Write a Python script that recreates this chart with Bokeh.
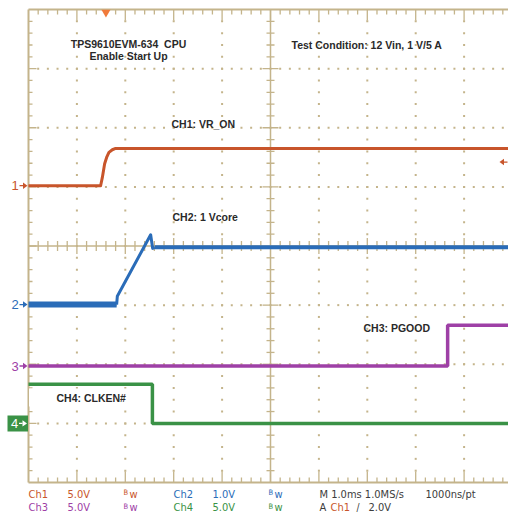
import numpy as np
from bokeh.plotting import figure
from bokeh.models import Range1d, Label
from bokeh.embed import file_html
from bokeh.resources import INLINE

# ---------------- data ----------------
# time in ms relative to the trigger point, voltages in V
ch1_t = [-1.6, -0.11, -0.074, -0.027, 0.014, 0.062, 0.132, 0.20, 8.4]
ch1_v = [0.0, 0.0, 0.70, 1.86, 2.39, 2.82, 3.04, 3.15, 3.15]
ch2_t = [-1.6, 0.221, 0.235, 0.924, 0.965, 1.006, 8.4]
ch2_v = [0.0, 0.0, 0.14, 1.18, 0.95, 0.97, 0.97]
ch3_t = [-1.6, 7.06, 7.06, 8.4]
ch3_v = [0.0, 0.0, 3.44, 3.44]
ch4_t = [-1.6, 0.96, 0.96, 8.4]
ch4_v = [3.3, 3.3, 0.0, 0.0]

channel_ids = ["1", "2", "3", "4"]
volts_per_div = [5.0, 1.0, 5.0, 5.0]
offset_div = [1.02, -0.99, -2.03, -3.0]
colors = ["#c8552b", "#2a6cb8", "#9e40a6", "#3a9246"]
trace_labels = ["CH1: VR_ON", "CH2: 1 Vcore", "CH3: PGOOD", "CH4: CLKEN#"]
title_lines = ["TPS9610EVM-634\u00a0 CPU", "Enable Start Up"]
condition = "Test Condition: 12 Vin, 1 V/5 A"
scale_text = ["5.0V", "1.0V", "5.0V", "5.0V"]
timebase = "M 1.0ms 1.0MS/s"
record = "1000ns/pt"
trigger_source = "Ch1"
trigger_level_v = 2.0
trigger_level_text = "2.0V"

# ---------------- geometry ----------------
W, H = 508, 514
PXMS = 48.4      # px per ms (1 ms/div)
PXDIV = 59.125   # px per vertical division
t_left = -1.6    # time at left graticule edge
x0 = t_left - 28 / PXMS
x1 = x0 + W / PXMS
y1 = 4 + 9 / PXDIV
y0 = y1 - H / PXDIV


def cx(px):
    return x0 + px / PXMS


def cy(py):
    return y1 - py / PXDIV


GRID = "#c4b48b"
TXT = "#2a2a2a"
GRAY = "#3c3c3c"

p = figure(width=W, height=H, x_range=Range1d(x0, x1), y_range=Range1d(y0, y1),
           output_backend="svg", toolbar_location=None,
           x_axis_type=None, y_axis_type=None, min_border=0,
           outline_line_color=None, background_fill_color="white",
           border_fill_color="white")
p.grid.visible = False

for i in range(4):
    p.extra_y_ranges["ch" + channel_ids[i]] = Range1d(
        (y0 - offset_div[i]) * volts_per_div[i], (y1 - offset_div[i]) * volts_per_div[i])

# ---------------- graticule ----------------
minor_x = t_left + np.arange(51) * 0.2
minor_y = -4 + np.arange(41) * 0.2
xc = t_left + 5

dx, dy = [], []
for k in [1, 2, 3, 4, 6, 7, 8, 9]:
    for yy in minor_y[1:-1]:
        dx.append(t_left + k); dy.append(yy)
for yl in [-3, -2, -1, 1, 2, 3]:
    for xx in minor_x[1:-1]:
        dx.append(xx); dy.append(yl)
p.scatter(dx, dy, marker="square", size=2, color=GRID, line_color=None)

p.segment(x0=[t_left, t_left, t_left, xc, t_left],
          y0=[4, -4, -4, -4, 0],
          x1=[t_left + 10, t_left + 10, t_left, xc, t_left + 10],
          y1=[4, -4, 4, 4, 0],
          line_color=GRID, line_width=[2, 2, 2, 1.5, 1.5])

sx0, sy0, sx1, sy1 = [], [], [], []
for j, xx in enumerate(minor_x[1:-1], start=1):
    L = 11 if j % 5 == 0 else 5
    sx0 += [xx, xx]; sx1 += [xx, xx]
    sy0 += [4, -4]; sy1 += [4 - L / PXDIV, -4 + L / PXDIV]
    if j != 25:
        h = 8 if j % 5 == 0 else 5
        sx0.append(xx); sx1.append(xx)
        sy0.append(-h / PXDIV); sy1.append(h / PXDIV)
for j, yy in enumerate(minor_y[1:-1], start=1):
    L = 8 if j % 5 == 0 else 4
    sx0.append(t_left); sx1.append(t_left + L / PXMS)
    sy0.append(yy); sy1.append(yy)
    if j != 20:
        h = 8 if j % 5 == 0 else 4
        sx0.append(xc - h / PXMS); sx1.append(xc + h / PXMS)
        sy0.append(yy); sy1.append(yy)
p.segment(x0=sx0, y0=sy0, x1=sx1, y1=sy1, line_color=GRID, line_width=1.3)

# white box behind the CH4 label
p.quad(left=cx(28.5), right=cx(152), top=cy(388), bottom=cy(406),
       fill_color="white", line_color=None)

# ---------------- traces ----------------
p.line(ch1_t, ch1_v, y_range_name="ch1", line_color=colors[0], line_width=3,
       line_join="round")
p.line(ch2_t[:2], ch2_v[:2], y_range_name="ch2", line_color=colors[1], line_width=6)
p.line(ch2_t[1:6], ch2_v[1:6], y_range_name="ch2", line_color=colors[1], line_width=3,
       line_join="round")
p.line(ch2_t[5:], ch2_v[5:], y_range_name="ch2", line_color=colors[1], line_width=4)
p.line(ch3_t, ch3_v, y_range_name="ch3", line_color=colors[2], line_width=3.5)
p.line(ch4_t, ch4_v, y_range_name="ch4", line_color=colors[3], line_width=3.5)


# ---------------- channel ground markers ----------------
def arrow(tip_px, y, direction, color, rng="default"):
    # small arrow: shaft + triangular head, sizes in screen pixels
    d = 1 if direction == "right" else -1
    head = 4.5
    shaft_end = tip_px - d * 8
    hx = [cx(tip_px), cx(tip_px - d * head), cx(tip_px - d * head)]
    if rng == "default":
        hy = [y, y + 3.2 / PXDIV, y - 3.2 / PXDIV]
        p.patch(hx, hy, color=color, line_color=None)
        p.line([cx(shaft_end), cx(tip_px - d * head)], [y, y], line_color=color,
               line_width=1.3)
    else:
        s = volts_per_div[0]
        hy = [y, y + 3.2 / PXDIV * s, y - 3.2 / PXDIV * s]
        p.patch(hx, hy, color=color, line_color=None, y_range_name=rng)
        p.line([cx(shaft_end), cx(tip_px - d * head)], [y, y], line_color=color,
               line_width=1.3, y_range_name=rng)


for i in range(3):
    p.add_layout(Label(x=cx(14.5), y=offset_div[i], text=channel_ids[i],
                       text_color=colors[i], text_font="Liberation Sans",
                       text_font_size="13px", text_align="center",
                       text_baseline="middle"))
    arrow(27, offset_div[i], "right", colors[i])
p.quad(left=cx(7), right=cx(27.5), top=offset_div[3] + 8 / PXDIV,
       bottom=offset_div[3] - 8 / PXDIV, fill_color=colors[3], line_color=None)
p.add_layout(Label(x=cx(14), y=offset_div[3], text=channel_ids[3],
                   text_color="white", text_font="Liberation Sans",
                   text_font_size="13px", text_align="center", text_baseline="middle"))
arrow(26.5, offset_div[3], "right", "white")

# trigger position (top) and trigger level (right)
p.scatter([0.0], [cy(11.8)], marker="inverted_triangle", size=9,
          color="#f07a3a", line_color=None)
arrow(499, trigger_level_v, "left", colors[0], rng="ch1")

# ---------------- annotations ----------------
def bold(x, y, t, align="left"):
    p.add_layout(Label(x=cx(x), y=cy(y), text=t, text_color=TXT,
                       text_font="Liberation Sans", text_font_style="bold",
                       text_font_size="10.5px", text_align=align,
                       text_baseline="middle"))


bold(128, 43, title_lines[0], "center")
bold(128, 55, title_lines[1], "center")
bold(291, 44, condition)
bold(171, 123, trace_labels[0])
bold(172, 216, trace_labels[1])
bold(363, 327, trace_labels[2])
bold(56, 397, trace_labels[3])

# ---------------- bottom status text ----------------
NF = "'Liberation Sans Narrow', 'DejaVu Sans Condensed', 'Liberation Sans'"


def status(x, y, t, color, size="11px"):
    p.add_layout(Label(x=cx(x), y=cy(y), text=t, text_color=color,
                       text_font=NF, text_font_size=size, text_align="left",
                       text_baseline="middle"))


rows = [493.5, 507]
order = [[0, 1], [2, 3]]
for r in range(2):
    for c in range(2):
        i = order[r][c]
        bx = 28 + c * 145
        status(bx, rows[r], "Ch" + channel_ids[i], colors[i])
        status(bx + 39, rows[r], scale_text[i], colors[i])
        status(bx + 95, rows[r] - 1.5, "B", colors[i], "7.5px")
        status(bx + 101, rows[r], "w", colors[i])
status(319, rows[0], timebase, GRAY)
status(425, rows[0], record, GRAY)
status(319, rows[1], "A", GRAY)
status(330, rows[1], trigger_source, colors[0])
status(356, rows[1], "/", GRAY, "10px")
status(368, rows[1], trigger_level_text, GRAY)

open("out.html", "w").write(file_html(p, INLINE))
